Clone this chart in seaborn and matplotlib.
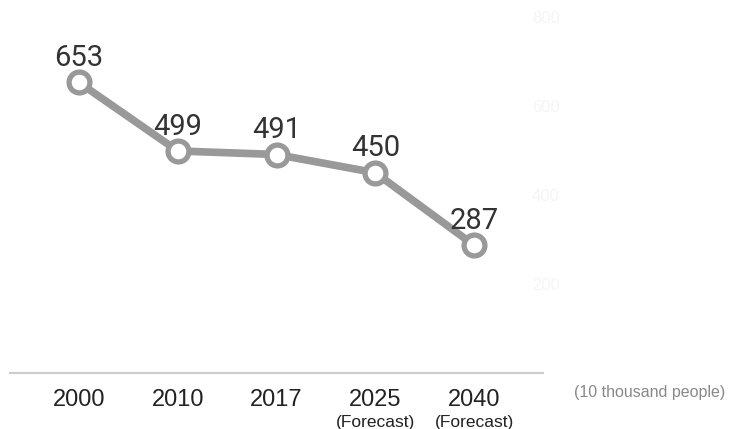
import matplotlib
matplotlib.use("Agg")
import matplotlib.pyplot as plt
import matplotlib.transforms as mtransforms
import seaborn as sns
import pandas as pd

years = ["2000", "2010", "2017", "2025", "2040"]
notes = ["", "", "", "(Forecast)", "(Forecast)"]
values = [653, 499, 491, 450, 287]
yticks = [200, 400, 600, 800]
unit_label = "(10 thousand people)"

sns.set_theme(style="white")
plt.rcParams["font.family"] = ["Liberation Sans", "DejaVu Sans"]

df = pd.DataFrame({"year": years, "value": values})

fig = plt.figure(figsize=(7.29, 4.29), dpi=100)
ax = fig.add_axes([10 / 729, (429 - 373) / 429, 533 / 729, (373 - 17) / 429])

sns.lineplot(data=df, x="year", y="value", ax=ax, color="#999999", linewidth=5.5,
             marker="o", markersize=15, markerfacecolor="white",
             markeredgecolor="#999999", markeredgewidth=3.8, sort=False)

ax.set_xlim(-0.697, 4.697)
ax.set_ylim(0, 800)

for i, v in enumerate(values):
    ax.annotate(str(v), (i, v), xytext=(0, 17.5), textcoords="offset points",
                ha="center", va="center", fontsize=21, color="#333333",
                family=["Roboto", "DejaVu Sans"])

for s in ["top", "left", "right"]:
    ax.spines[s].set_visible(False)
ax.spines["bottom"].set_color("#cccccc")
ax.spines["bottom"].set_linewidth(1.5)

ax.set_xticks(range(len(years)))
ax.set_xticklabels(years, fontsize=17, color="#222222")
ax.tick_params(axis="x", length=0, pad=11.5)

ax.yaxis.tick_right()
ax.set_yticks(yticks)
ax.set_yticklabels([str(t) for t in yticks], fontsize=12, color="#f5f5f5")
ax.tick_params(axis="y", length=0, pad=-8)
ax.set_xlabel("")
ax.set_ylabel("")

trans = mtransforms.blended_transform_factory(ax.transData, fig.transFigure)
for i, n in enumerate(notes):
    if n:
        ax.text(i, (429 - 423) / 429, n, transform=trans, ha="center", va="center",
                fontsize=12.5, color="#222222")

fig.text(725 / 729, (429 - 392) / 429, unit_label, ha="right", va="center",
         fontsize=11.5, color="#888888")

fig.savefig("out.png", dpi=100)
